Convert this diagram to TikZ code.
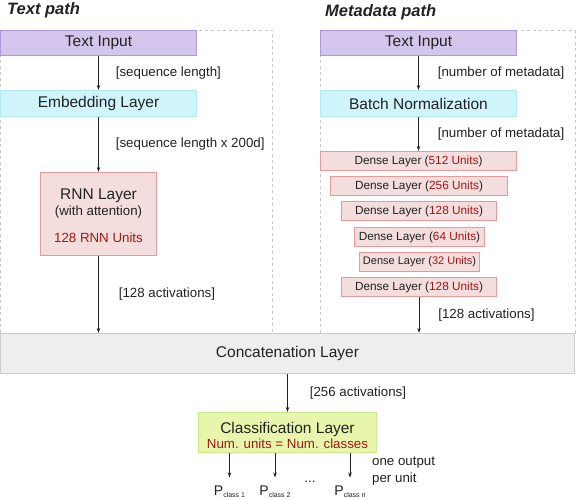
\documentclass[tikz,border=0pt]{standalone}
\usepackage{fontspec}
\setmainfont{Liberation Sans}
\usetikzlibrary{arrows.meta,positioning}

\definecolor{inputfill}{RGB}{212,197,236}
\definecolor{inputline}{RGB}{172,150,222}
\definecolor{embfill}{RGB}{208,244,252}
\definecolor{embline}{RGB}{178,232,246}
\definecolor{rnnfill}{RGB}{244,221,221}
\definecolor{rnnline}{RGB}{234,152,152}
\definecolor{catfill}{RGB}{238,238,238}
\definecolor{catline}{RGB}{204,204,204}
\definecolor{clsfill}{RGB}{231,246,172}
\definecolor{clsline}{RGB}{204,232,140}
\definecolor{unitred}{RGB}{168,20,20}
\definecolor{txtgray}{RGB}{34,34,34}
\definecolor{framegray}{RGB}{200,200,200}

\newcommand{\units}[1]{{\color{unitred}#1}}
\newcommand{\pcls}[1]{{\fontsize{14}{14}\selectfont P}\raisebox{-2.5pt}{\fontsize{7}{7}\selectfont class #1}}

\begin{document}
\begin{tikzpicture}[x=1pt,y=-1pt]

        \tikzstyle{every node}=[text=txtgray]
        \tikzstyle{layer}=[shape=rectangle,draw,line width=1.3pt,inner sep=0pt,align=center,font=\fontsize{15.5}{18}\selectfont]
        \tikzstyle{input}=[layer,fill=inputfill,draw=inputline,minimum width=196pt,minimum height=25pt]
        \tikzstyle{embed}=[layer,fill=embfill,draw=embline,minimum width=196pt,minimum height=26pt]
        \tikzstyle{dense}=[layer,fill=rnnfill,draw=rnnline,minimum height=19pt,font=\fontsize{11.8}{13}\selectfont]
        \tikzstyle{lbl}=[font=\fontsize{13.3}{16.5}\selectfont,inner sep=1pt]
        \tikzstyle{title}=[font=\fontsize{16.5}{18}\selectfont\bfseries\itshape,anchor=west,inner sep=0pt]
        \tikzstyle{frame}=[draw=framegray,dashed,line width=0.8pt]
        \tikzstyle{flow}=[-{Stealth[length=5pt,width=3.5pt]},line width=0.8pt,draw=txtgray]

        \useasboundingbox (0,0) rectangle (576,500);

        % dashed frames of the two paths
        \draw[frame] (0.5,30) rectangle (272,333);
        \draw[frame] (320,30) rectangle (575,333);

        \node[title] (TT) at (7,10) {Text path};
        \node[title] (MT) at (325,12) {Metadata path};

        % text path
        \node[input] (TL) at (98.5,43) {Text Input};
        \node[embed] (EL) at (98.5,103.5) {Embedding Layer};
        \node[layer,fill=rnnfill,draw=rnnline,minimum width=116pt,minimum height=83pt] (RNN) at (98.5,214)
            {\rule{0pt}{14.3pt}RNN Layer\\[-2pt]{\fontsize{13.3}{15}\selectfont (with attention)}\\[9pt]{\fontsize{13.3}{15}\selectfont\units{128 RNN Units}}};

        % metadata path
        \node[input] (TR) at (418.5,43) {Text Input};
        \node[embed] (BN) at (418.5,103.5) {Batch Normalization};
        \node[dense,minimum width=196pt] (D1) at (418.5,161) {Dense Layer (\units{512 Units})};
        \node[dense,minimum width=177pt] (D2) at (419,186) {Dense Layer (\units{256 Units})};
        \node[dense,minimum width=155pt] (D3) at (419,211) {Dense Layer (\units{128 Units})};
        \node[dense,minimum width=130pt] (D4) at (419.5,237) {Dense Layer (\units{64 Units})};
        \node[dense,minimum width=120pt,font=\fontsize{11}{13}\selectfont] (D5) at (419.5,262) {Dense Layer (\units{32 Units})};
        \node[dense,minimum width=155pt] (D6) at (419,287) {Dense Layer (\units{128 Units})};

        % merge and output
        \node[layer,fill=catfill,draw=catline,minimum width=574pt,minimum height=40pt] (CAT) at (287.5,353.5) {Concatenation Layer};
        \node[layer,fill=clsfill,draw=clsline,minimum width=178pt,minimum height=40pt] (CLS) at (287.5,432.5)
            {\rule{0pt}{17.1pt}Classification Layer\\[-3pt]{\fontsize{13.3}{15}\selectfont\units{Num. units = Num. classes}}};

        \node[inner sep=0pt,anchor=north] (P1) at (229.5,485.5) {\pcls{1}};
        \node[inner sep=0pt,anchor=north] (P2) at (275,485.5) {\pcls{2}};
        \node[inner sep=0pt,anchor=north] (PN) at (350,485.5) {\pcls{n}};
        \node[lbl] (DOTS) at (310,482) {...};
        \node[lbl,anchor=west,align=left] (NOTE) at (371,471) {one output\\per unit};

        \path (TL) edge[flow] node[lbl,right=16pt] {[sequence length]} (EL);
        \path (EL) edge[flow] node[lbl,right=16pt] {[sequence length x 200d]} (RNN);
        \path (RNN.south) edge[flow] node[lbl,right=19pt] {[128 activations]} (RNN.south |- CAT.north);

        \path (TR) edge[flow] node[lbl,right=18pt] {[number of metadata]} (BN);
        \path (BN) edge[flow] node[lbl,right=18pt] {[number of metadata]} (D1);
        \path (D6.south) edge[flow] node[lbl,right=18pt] {[128 activations]} (D6.south |- CAT.north);

        \path (CAT.south) edge[flow] node[lbl,right=21pt] {[256 activations]} (CLS);

        \path (CLS.south -| P1) edge[flow,shorten >=8pt] (P1.north);
        \path (CLS.south -| P2) edge[flow,shorten >=8pt] (P2.north);
        \path (CLS.south -| PN) edge[flow,shorten >=8pt] (PN.north);
      \end{tikzpicture}
\end{document}
